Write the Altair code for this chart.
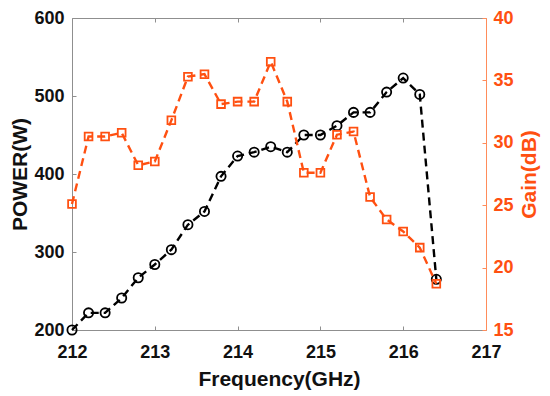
import altair as alt
import pandas as pd

# ---- data ----
freq = [212.0, 212.2, 212.4, 212.6, 212.8, 213.0, 213.2, 213.4, 213.6, 213.8,
        214.0, 214.2, 214.4, 214.6, 214.8, 215.0, 215.2, 215.4, 215.6, 215.8,
        216.0, 216.2, 216.4]
power = [200, 222, 222, 241, 267, 284, 303, 335, 352, 397,
         423, 428, 435, 428, 450, 450, 462, 479, 479, 505,
         523, 502, 265]
gain = [25.1, 30.5, 30.5, 30.8, 28.2, 28.5, 31.8, 35.3, 35.5, 33.1,
        33.3, 33.3, 36.5, 33.3, 27.6, 27.6, 30.65, 30.9, 25.65, 23.85,
        22.9, 21.6, 18.7]

freq_ticks = [212, 213, 214, 215, 216, 217]
power_ticks = [200, 300, 400, 500, 600]
gain_ticks = [15, 20, 25, 30, 35, 40]

# ---- style ----
W, H = 414, 312
FONT = "Liberation Sans"
ORANGE = "#FF5011"
ORANGE_AX = "#FF8C5A"
GRAY = "#8f8f8f"
TXT = "#111111"

df = pd.DataFrame({"freq": freq, "power": power, "gain": gain})
base = alt.Chart(df)

xs = alt.Scale(domain=[freq_ticks[0], freq_ticks[-1]], nice=False, zero=False)
ps = alt.Scale(domain=[power_ticks[0], power_ticks[-1]], nice=False, zero=False)
gs = alt.Scale(domain=[gain_ticks[0], gain_ticks[-1]], nice=False, zero=False)

x_main = alt.X("freq:Q", scale=xs, axis=alt.Axis(
    orient="bottom", values=freq_ticks, format=".0f", title="Frequency(GHz)",
    tickSize=0, labelPadding=13, labelFlush=False, domainColor=GRAY, domainWidth=1,
    labelFont=FONT, labelFontSize=18, labelFontWeight="bold", labelColor=TXT,
    titleFont=FONT, titleFontSize=21, titleFontWeight="bold", titleColor=TXT,
    titlePadding=7, grid=False))
x_none = alt.X("freq:Q", scale=xs, axis=None)

y_power = alt.Y("power:Q", scale=ps, axis=alt.Axis(
    orient="left", values=power_ticks, format=".0f", title="POWER(W)",
    tickSize=0, labelPadding=8, labelFlush=False, domainColor=GRAY, domainWidth=1,
    labelFont=FONT, labelFontSize=18, labelFontWeight="bold", labelColor=TXT,
    titleFont=FONT, titleFontSize=21, titleFontWeight="bold", titleColor=TXT,
    titlePadding=3, grid=False))
y_power_none = alt.Y("power:Q", scale=ps, axis=None)

y_gain = alt.Y("gain:Q", scale=gs, axis=alt.Axis(
    orient="right", values=gain_ticks, format=".0f", title="Gain(dB)",
    tickSize=0, labelPadding=7, labelFlush=False, domainColor=ORANGE_AX, domainWidth=1,
    labelFont=FONT, labelFontSize=18, labelFontWeight="bold", labelColor=ORANGE,
    titleFont=FONT, titleFontSize=21, titleFontWeight="bold", titleColor=ORANGE,
    titleAngle=270, titleBaseline="top", titlePadding=5, grid=False))
y_gain_none = alt.Y("gain:Q", scale=gs, axis=None)

p_line = base.mark_line(color="black", strokeWidth=2.4, strokeDash=[8, 5]).encode(x=x_main, y=y_power)
p_pts = base.mark_point(shape="circle", filled=False, color="black", size=85,
                        strokeWidth=1.8, opacity=1).encode(x=x_none, y=y_power_none)
g_line = base.mark_line(color=ORANGE, strokeWidth=2.4, strokeDash=[8, 5]).encode(x=x_none, y=y_gain)
g_pts = base.mark_point(shape="square", filled=False, color=ORANGE, size=60,
                        strokeWidth=1.8, opacity=1).encode(x=x_none, y=y_gain_none)

# inward ticks (bottom & left) via axes moved onto the opposite edges
t_in1 = base.mark_point(opacity=0).encode(
    x=alt.X("freq:Q", scale=xs, axis=alt.Axis(
        orient="top", offset=-H, values=freq_ticks, labels=False, domain=False,
        tickSize=4, tickColor=GRAY, tickWidth=1, title=None, grid=False)),
    y=alt.Y("power:Q", scale=ps, axis=alt.Axis(
        orient="right", offset=-W, values=power_ticks, labels=False, domain=False,
        tickSize=4, tickColor=GRAY, tickWidth=1, title=None, grid=False)))
# top border with inward ticks, right (gain) inward ticks
t_in2 = base.mark_point(opacity=0).encode(
    x=alt.X("freq:Q", scale=xs, axis=alt.Axis(
        orient="bottom", offset=-H, values=freq_ticks, labels=False, domain=True,
        domainColor=GRAY, domainWidth=1,
        tickSize=4, tickColor=GRAY, tickWidth=1, title=None, grid=False)),
    y=alt.Y("gain:Q", scale=gs, axis=alt.Axis(
        orient="left", offset=-W, values=gain_ticks, labels=False, domain=False,
        tickSize=4, tickColor=ORANGE_AX, tickWidth=1, title=None, grid=False)))

chart = alt.layer(p_line, p_pts, g_line, g_pts, t_in1, t_in2).resolve_scale(
    y="independent"
).resolve_axis(
    x="independent", y="independent"
).properties(
    width=W, height=H,
    autosize=alt.AutoSizeParams(type="none"),
    padding={"left": 64, "top": 10, "right": 56, "bottom": 62},
    background="white",
).configure_view(stroke=None)

chart.save("out.html", embed_options={"renderer": "svg", "actions": False})
